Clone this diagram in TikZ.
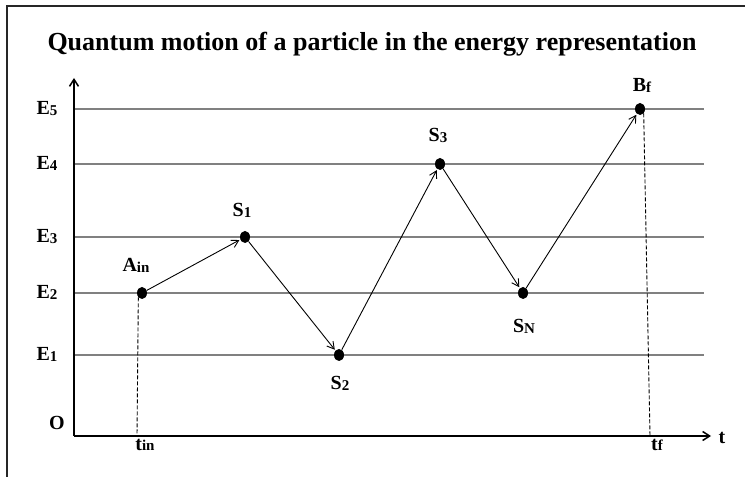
\documentclass[tikz,border=0pt]{standalone}
\usepackage{fontspec}
\setmainfont{Liberation Serif}
\usetikzlibrary{arrows.meta, positioning, shapes.geometric}
\definecolor{ink}{HTML}{000000}
\definecolor{levelgray}{HTML}{808080}
\tikzset{
  title/.style={font=\bfseries\fontsize{26}{28}\selectfont, text=ink},
  lbl/.style={font=\bfseries\fontsize{20}{22}\selectfont, text=ink, inner sep=1pt, anchor=base},
  level/.style={draw=levelgray, line width=1.2pt},
  axis/.style={draw=ink, line width=1.5pt, -{Straight Barb[length=7pt, width=9pt]}},
  jump/.style={draw=ink, line width=0.9pt, -{Straight Barb[length=7pt, width=8pt]}, shorten >=1pt},
  guide/.style={draw=ink, line width=0.9pt, dash pattern=on 4pt off 2pt},
  dot/.style={ellipse, fill=ink, inner sep=0pt, minimum width=10pt, minimum height=12pt}
}
\newcommand{\sub}[1]{\raisebox{-1pt}{\fontsize{15}{16}\selectfont #1}}

\begin{document}
\begin{tikzpicture}[x=1pt,y=1pt]
\useasboundingbox (0,0) rectangle (745,477);

% frame
\draw[line width=1.5pt, draw=ink!85] (7,0) -- (7,471) -- (745,471);

\node[title] (ttl) at (372,433) {Quantum motion of a particle in the energy representation};

% energy levels
\foreach \k/\y in {1/122,2/184,3/240,4/313,5/368}{
  \draw[level] (74,\y) -- (704,\y);
  \node[lbl] (E\k) at (47,\y-6) {E\sub{\k}};
}

% axes
\coordinate (O) at (74,41);
\draw[axis] (O) -- (74,399);
\draw[axis] (O) -- (711,41);
\node[lbl] (lO) at (57,47) {O};
\node[lbl] (lt) at (722,34) {t};

% states
\node[dot] (Ain) at (142,184) {};
\node[dot] (S1) at (245,240) {};
\node[dot] (S2) at (339,122) {};
\node[dot] (S3) at (440,313) {};
\node[dot] (SN) at (523,184) {};
\node[dot] (Bf) at (640,368) {};

\node[lbl] (lAin) at (136,205) {A\sub{in}};
\node[lbl] (lS1) at (242,260) {S\sub{1}};
\node[lbl] (lS2) at (340,87) {S\sub{2}};
\node[lbl] (lS3) at (438,335) {S\sub{3}};
\node[lbl] (lSN) at (524,144) {S\sub{N}};
\node[lbl] (lBf) at (642,385) {B\sub{f}};

% jumps
\draw[jump] (Ain) -- (S1);
\draw[jump] (S1) -- (S2);
\draw[jump] (S2) -- (S3);
\draw[jump] (S3) -- (SN);
\draw[jump] (SN) -- (Bf);

% time marks
\coordinate (tin) at (137,41);
\coordinate (tf) at (650,41);
\draw[guide] (Ain.south west) -- (tin);
\draw[guide] (Bf.south east) -- (tf);
\node[lbl] (ltin) at (145,27) {t\sub{in}};
\node[lbl] (ltf) at (657,27) {t\sub{f}};

\end{tikzpicture}
\end{document}
